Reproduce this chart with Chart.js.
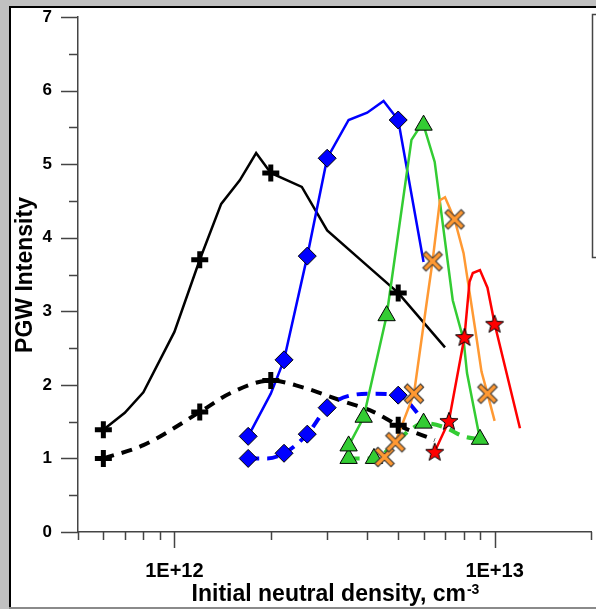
<!DOCTYPE html>
<html>
<head>
<meta charset="utf-8">
<script src="https://cdn.jsdelivr.net/npm/chart.js@4.4.1/dist/chart.umd.min.js"></script>
<style>
  html, body { margin: 0; padding: 0; background: #c0c0c0; }
  canvas { display: block; }
</style>
</head>
<body>
<canvas id="chart" width="596" height="609"></canvas>
<script>
// Black: solid curve + dashed curve
const blackSolidX = [6e11, 7e11, 8e11, 1e12, 1.2e12, 1.4e12, 1.6e12, 1.8e12, 2e12, 2.5e12, 3e12, 4e12, 5e12, 7e12];
const blackSolidY = [1.39, 1.62, 1.90, 2.72, 3.70, 4.46, 4.78, 5.15, 4.88, 4.69, 4.10, 3.62, 3.25, 2.51];
const blackSolidMarkX = [6e11, 1.2e12, 2e12, 5e12];
const blackSolidMarkY = [1.39, 3.70, 4.88, 3.25];
const blackDashX = [6e11, 8e11, 1.2e12, 1.5e12, 2e12, 2.5e12, 3.3e12, 4.2e12, 5e12, 6.5e12];
const blackDashY = [1.0, 1.18, 1.63, 1.89, 2.06, 1.97, 1.79, 1.63, 1.45, 1.25];
const blackDashMarkX = [6e11, 1.2e12, 2e12, 5e12];
const blackDashMarkY = [1.0, 1.63, 2.06, 1.45];

// Blue
const blueSolidX = [1.7e12, 2e12, 2.2e12, 2.6e12, 3e12, 3.5e12, 4e12, 4.5e12, 5e12, 6e12];
const blueSolidY = [1.30, 1.88, 2.34, 3.75, 5.08, 5.60, 5.70, 5.86, 5.60, 3.67];
const blueSolidMarkX = [1.7e12, 2.2e12, 2.6e12, 3e12, 5e12];
const blueSolidMarkY = [1.30, 2.34, 3.75, 5.08, 5.60];
const blueDashX = [1.7e12, 1.95e12, 2.2e12, 2.6e12, 3e12, 3.5e12, 4.2e12, 5e12, 6e12];
const blueDashY = [1.0, 1.0, 1.07, 1.33, 1.69, 1.85, 1.88, 1.86, 1.52];
const blueDashMarkX = [1.7e12, 2.2e12, 2.6e12, 3e12, 5e12];
const blueDashMarkY = [1.0, 1.07, 1.33, 1.69, 1.86];

// Green
const greenSolidX = [3.5e12, 3.9e12, 4.6e12, 5.5e12, 5.75e12, 6e12, 6.5e12, 7.4e12, 8e12, 8.2e12, 9e12];
const greenSolidY = [1.17, 1.56, 2.94, 5.33, 5.46, 5.53, 5.03, 3.15, 2.61, 2.16, 1.26];
const greenSolidMarkX = [3.5e12, 3.9e12, 4.6e12, 6e12, 9e12];
const greenSolidMarkY = [1.17, 1.56, 2.94, 5.53, 1.26];
const greenDashX = [3.5e12, 4.2e12, 5e12, 5.5e12, 6e12, 7e12, 8e12, 9e12];
const greenDashY = [1.0, 1.0, 1.25, 1.40, 1.48, 1.42, 1.30, 1.26];
const greenDashMarkX = [3.5e12, 4.2e12, 6e12];
const greenDashMarkY = [1.0, 1.0, 1.48];

// Orange
const orangeX = [4.53e12, 4.9e12, 5.6e12, 6.15e12, 6.4e12, 6.75e12, 7e12, 7.5e12, 8e12, 8.8e12, 9.1e12, 9.5e12, 1e13];
const orangeY = [1.02, 1.22, 1.88, 3.15, 3.68, 4.51, 4.55, 4.25, 3.79, 2.61, 2.18, 1.88, 1.51];
const orangeMarkX = [4.53e12, 4.9e12, 5.6e12, 6.4e12, 7.5e12, 9.5e12];
const orangeMarkY = [1.02, 1.22, 1.88, 3.68, 4.25, 1.88];

// Red
const redX = [6.5e12, 7.2e12, 8.05e12, 8.35e12, 8.55e12, 9e12, 9.5e12, 1e13, 1.2e13];
const redY = [1.09, 1.51, 2.65, 3.40, 3.52, 3.56, 3.32, 2.83, 1.41];
const redMarkX = [6.5e12, 7.2e12, 8.05e12, 1e13];
const redMarkY = [1.09, 1.51, 2.65, 2.83];

const xMajor = [1e12, 1e13];
const xMinor = [5e11, 6e11, 7e11, 8e11, 9e11, 2e12, 3e12, 4e12, 5e12, 6e12, 7e12, 8e12, 9e12, 2e13];
const xTickLabels = { 12: '1E+12', 13: '1E+13' };

function pts(xs, ys) {
  return xs.map((x, i) => ({ x: x, y: ys[i] }));
}

// custom point images
function starImage() {
  const c = document.createElement('canvas');
  c.width = 22; c.height = 22;
  const g = c.getContext('2d');
  g.beginPath();
  for (let i = 0; i < 10; i++) {
    const r = i % 2 === 0 ? 9.5 : 4;
    const a = -Math.PI / 2 + i * Math.PI / 5;
    const px = 11 + r * Math.cos(a), py = 11.8 + r * Math.sin(a);
    if (i === 0) g.moveTo(px, py); else g.lineTo(px, py);
  }
  g.closePath();
  g.fillStyle = '#ff0000';
  g.fill();
  g.lineWidth = 1;
  g.strokeStyle = '#000';
  g.stroke();
  return c;
}

function xImage() {
  const c = document.createElement('canvas');
  c.width = 24; c.height = 24;
  const g = c.getContext('2d');
  const lines = [[3.5, 3.5, 20.5, 20.5], [20.5, 3.5, 3.5, 20.5]];
  g.lineCap = 'butt';
  g.strokeStyle = '#333';
  g.lineWidth = 5.5;
  lines.forEach(l => { g.beginPath(); g.moveTo(l[0], l[1]); g.lineTo(l[2], l[3]); g.stroke(); });
  g.strokeStyle = '#ff9933';
  g.lineWidth = 3.5;
  const s = [[4.3, 4.3, 19.7, 19.7], [19.7, 4.3, 4.3, 19.7]];
  s.forEach(l => { g.beginPath(); g.moveTo(l[0], l[1]); g.lineTo(l[2], l[3]); g.stroke(); });
  return c;
}

function line(xs, ys, color, dashed) {
  return {
    data: pts(xs, ys),
    showLine: true,
    borderColor: color,
    borderWidth: dashed ? 4 : 2.5,
    borderDash: dashed ? [11, 8] : [],
    pointRadius: 0,
    tension: dashed ? 0.4 : 0,
    cubicInterpolationMode: dashed ? 'monotone' : 'default'
  };
}

function marks(xs, ys, style, radius, fill, border, bw) {
  return {
    data: pts(xs, ys),
    showLine: false,
    pointStyle: style,
    pointRadius: radius,
    backgroundColor: fill,
    borderColor: border,
    borderWidth: bw
  };
}

const starImg = starImage();
const xImg = xImage();

const datasets = [
  marks(redMarkX, redMarkY, starImg, 10, '#ff0000', '#000', 1),
  marks(orangeMarkX, orangeMarkY, xImg, 12, '#ff9933', '#000', 1),
  marks(greenSolidMarkX, greenSolidMarkY, 'triangle', 10, '#33cc33', '#000', 1),
  marks(greenDashMarkX, greenDashMarkY, 'triangle', 10, '#33cc33', '#000', 1),
  marks(blueSolidMarkX, blueSolidMarkY, 'rectRot', 9, '#0000ff', '#000', 1),
  marks(blueDashMarkX, blueDashMarkY, 'rectRot', 9, '#0000ff', '#000', 1),
  marks(blackSolidMarkX, blackSolidMarkY, 'cross', 8.5, '#000', '#000', 5),
  marks(blackDashMarkX, blackDashMarkY, 'cross', 8.5, '#000', '#000', 5),
  line(redX, redY, '#ff0000', false),
  line(orangeX, orangeY, '#ff9933', false),
  line(greenDashX, greenDashY, '#33cc33', true),
  line(greenSolidX, greenSolidY, '#33cc33', false),
  line(blueDashX, blueDashY, '#0000ff', true),
  line(blueSolidX, blueSolidY, '#0000ff', false),
  line(blackDashX, blackDashY, '#000', true),
  line(blackSolidX, blackSolidY, '#000', false)
];

function noPad(s) {
  s.paddingLeft = 0; s.paddingRight = 0; s.paddingTop = 0; s.paddingBottom = 0;
}

const framePlugin = {
  id: 'frame',
  beforeDraw(chart) {
    const ctx = chart.ctx;
    ctx.save();
    ctx.fillStyle = '#c0c0c0';
    ctx.fillRect(0, 0, 596, 609);
    ctx.fillStyle = '#ffffff';
    ctx.fillRect(9, 6, 587, 601);
    ctx.fillStyle = '#000';
    ctx.fillRect(9, 6, 2, 601);
    ctx.fillRect(9, 6, 587, 2);
    ctx.fillStyle = '#8a8a8a';
    ctx.fillRect(9, 607, 587, 2);
    // legend box (cut off at the right edge)
    ctx.strokeStyle = '#444';
    ctx.lineWidth = 1.5;
    ctx.strokeRect(592.5, 14.5, 20, 243);
    ctx.restore();
  },
  afterDraw(chart) {
    const ctx = chart.ctx;
    const xs = chart.scales.x, ys = chart.scales.y;
    const area = chart.chartArea;
    ctx.save();
    ctx.strokeStyle = '#444';
    ctx.lineWidth = 1.5;
    ctx.beginPath();
    xMajor.forEach(v => { const p = Math.round(xs.getPixelForValue(v)) + 0.5; ctx.moveTo(p, area.bottom); ctx.lineTo(p, area.bottom + 16); });
    xMinor.forEach(v => { const p = Math.round(xs.getPixelForValue(v)) + 0.5; ctx.moveTo(p, area.bottom); ctx.lineTo(p, area.bottom + 8); });
    for (let v = 0; v <= 7; v += 0.5) {
      const p = Math.round(ys.getPixelForValue(v)) + 0.5;
      ctx.moveTo(area.left, p);
      ctx.lineTo(area.left - (Number.isInteger(v) ? 17 : 9), p);
    }
    ctx.stroke();

    // axis titles
    ctx.fillStyle = '#000';
    const big = 'bold 23px Arial, "Liberation Sans", sans-serif';
    const small = 'bold 14px Arial, "Liberation Sans", sans-serif';
    const main = 'Initial neutral density, cm';
    const sup = '-3';
    ctx.font = big;
    const w1 = ctx.measureText(main).width;
    ctx.font = small;
    const w2 = ctx.measureText(sup).width;
    let x0 = 335 - (w1 + w2) / 2;
    ctx.textBaseline = 'alphabetic';
    ctx.textAlign = 'left';
    ctx.font = big;
    ctx.fillText(main, x0, 601);
    ctx.font = small;
    ctx.fillText(sup, x0 + w1 + 1, 594);

    ctx.translate(26, 275);
    ctx.rotate(-Math.PI / 2);
    ctx.font = big;
    ctx.textAlign = 'center';
    ctx.textBaseline = 'middle';
    ctx.fillText('PGW Intensity', 0, 0);
    ctx.restore();
  }
};

new Chart(document.getElementById('chart'), {
  type: 'scatter',
  data: { datasets: datasets },
  options: {
    responsive: false,
    animation: false,
    devicePixelRatio: 1,
    layout: { autoPadding: false, padding: { left: 0, top: 17, right: 5, bottom: 0 } },
    plugins: { legend: { display: false }, tooltip: { enabled: false } },
    scales: {
      x: {
        type: 'logarithmic',
        min: 5e11,
        max: 2e13,
        grid: { display: false, drawTicks: false },
        border: { display: true, color: '#444', width: 1.5 },
        ticks: {
          autoSkip: false,
          maxRotation: 0,
          color: '#000',
          padding: 27,
          font: { family: 'Arial, "Liberation Sans", sans-serif', size: 20, weight: 'bold' },
          callback: v => {
            const e = Math.log10(v);
            return Math.abs(e - Math.round(e)) < 1e-6 ? (xTickLabels[Math.round(e)] || '') : '';
          }
        },
        afterFit: s => { s.height = 77; noPad(s); }
      },
      y: {
        min: 0,
        max: 7,
        grid: { display: false, drawTicks: false },
        border: { display: true, color: '#444', width: 1.5 },
        ticks: {
          stepSize: 0.5,
          color: '#000',
          padding: 26,
          font: { family: 'Arial, "Liberation Sans", sans-serif', size: 17, weight: 'bold' },
          callback: v => Number.isInteger(v) ? String(v) : ''
        },
        afterFit: s => { s.width = 78; noPad(s); }
      }
    }
  },
  plugins: [framePlugin]
});
</script>
</body>
</html>
